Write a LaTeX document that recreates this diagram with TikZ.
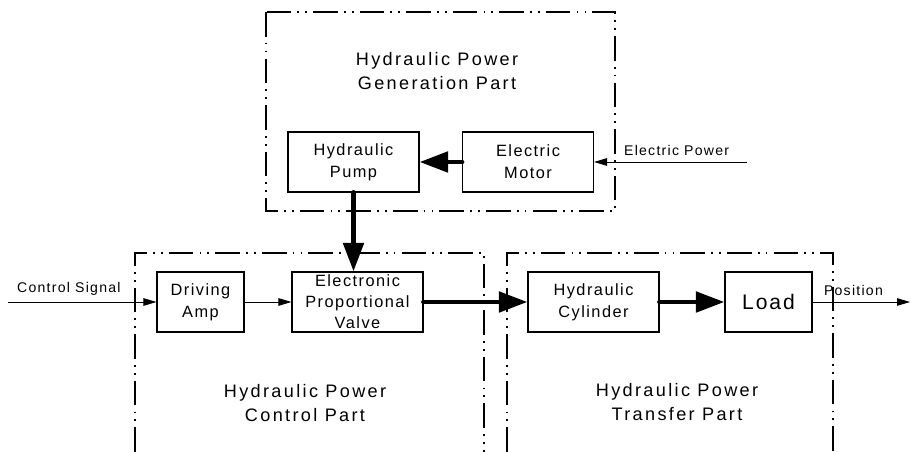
\documentclass[tikz,border=0pt]{standalone}
\usepackage{fontspec}
\usetikzlibrary{positioning, arrows.meta}
\newfontfamily\gulim{Liberation Sans}[LetterSpace=9]
\newfontfamily\gulimwide{Liberation Sans}[LetterSpace=13]

\begin{document}
\begin{tikzpicture}[x=0.02cm, y=-0.02cm,
  box/.style={draw, line width=0.6pt, minimum width=2.62cm, minimum height=1.2cm,
              inner sep=0pt, align=center, font=\gulim\fontsize{9.3}{12.4}\selectfont},
  partframe/.style={line width=1.1pt,
              dash pattern=on 14pt off 3.5pt on 1pt off 3.5pt on 1pt off 3.5pt},
  parttitle/.style={align=center, font=\gulimwide\fontsize{10.3}{13.6}\selectfont},
  sig/.style={font=\gulim\fontsize{8}{10}\selectfont},
  thin/.style={-{Triangle[length=0.26cm, width=0.15cm]}, line width=0.5pt},
  power/.style={-{Triangle[length=0.57cm, width=0.4cm]}, line width=2.8pt, line cap=round}]
  \useasboundingbox (0,0) rectangle (917,452);

  % the three parts
  \draw[partframe] (266,12) rectangle (615,211);
  \draw[partframe] (135,452) -- (135,253) -- (484,253) -- (484,452);
  \draw[partframe] (507,452) -- (507,253) -- (833,253) -- (833,452);
  \node[parttitle] (gentitle) at (437,71) {Hydraulic Power\\Generation Part};
  \node[parttitle] (ctrltitle) at (305,403) {Hydraulic Power\\Control Part};
  \node[parttitle] (transtitle) at (677,402) {Hydraulic Power\\Transfer Part};

  % blocks
  \node[box] (pump) at (353.5,162) {Hydraulic\\Pump};
  \node[box] (motor) at (528,162) {Electric\\Motor};
  \node[box, minimum width=1.74cm] (amp) at (200.5,302) {Driving\\Amp};
  \node[box, font=\gulim\fontsize{9.3}{12}\selectfont] (valve) at (357.5,302)
    {Electronic\\Proportional\\Valve};
  \node[box] (cyl) at (593.5,302) {Hydraulic\\Cylinder};
  \node[box, minimum width=1.74cm, font=\gulim\fontsize{12}{14}\selectfont] (load) at (768.5,302) {Load};

  % signals in and out
  \coordinate (epin) at (747,162);
  \coordinate (csin) at (8,302);
  \coordinate (posout) at (910,302);
  \draw[thin] (epin) -- node[sig, above, pos=0.46] {Electric Power} (motor);
  \draw[thin] (csin) -- node[sig, above, pos=0.41] {Control Signal} (amp);
  \draw[thin] (amp) -- (valve);
  \draw[thin] (load) -- node[sig, above, pos=0.42] {Position} (posout);

  % power flow
  \draw[power] (motor) -- (pump);
  \draw[power] (pump.south) -- (pump.south |- valve.north);
  \draw[power] (valve) -- (cyl);
  \draw[power] (cyl) -- (load);
\end{tikzpicture}
\end{document}
